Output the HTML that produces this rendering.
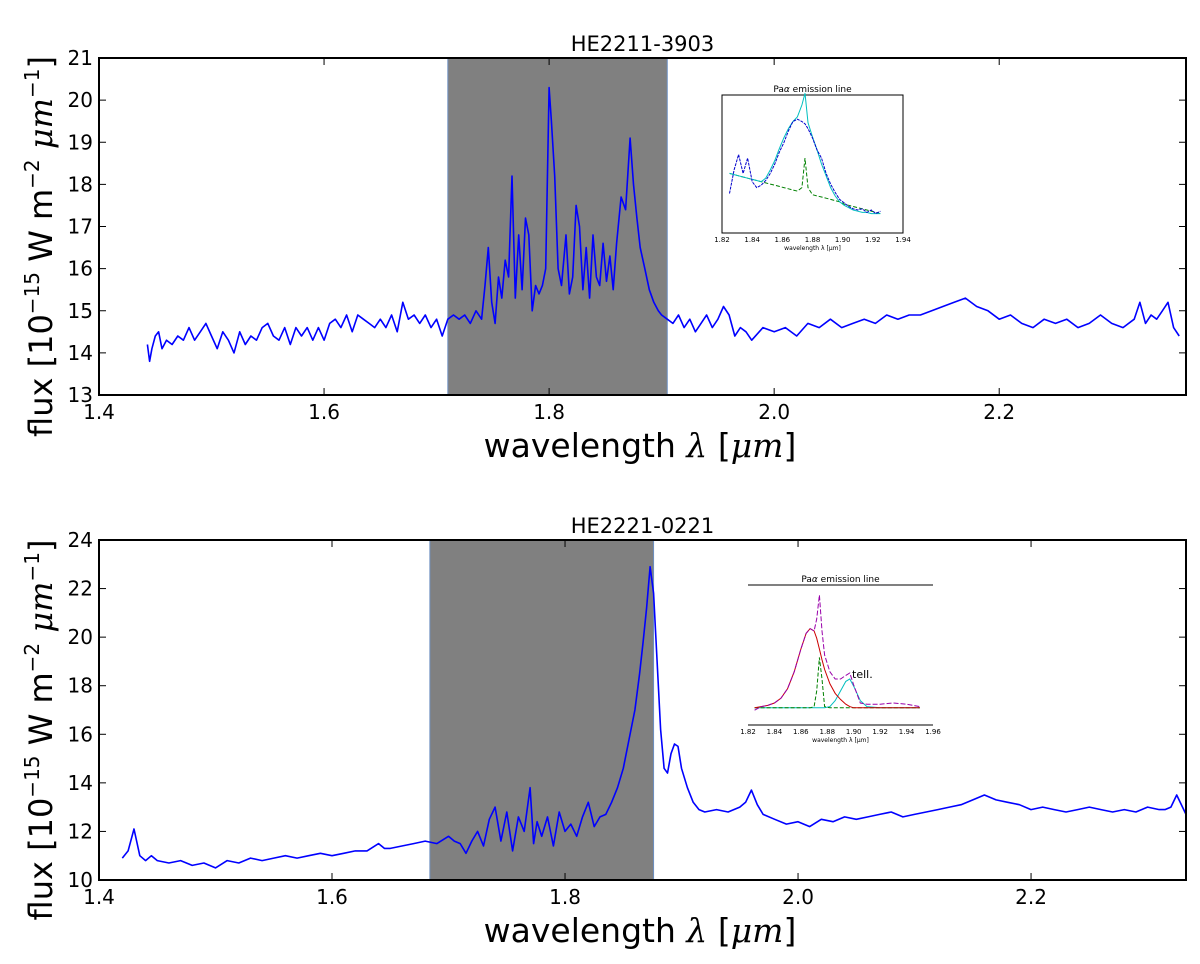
<!DOCTYPE html>
<html><head><meta charset="utf-8"><style>
body{margin:0;background:#fff}
svg{display:block;font-family:"DejaVu Sans","Liberation Sans",sans-serif}
</style></head><body>
<svg id="c" width="1200" height="964"></svg>
<script>
// ---- top panel data (HE2211-3903)
const topWl=[1.443,1.445,1.447,1.45,1.453,1.456,1.46,1.465,1.47,1.475,1.48,1.485,1.49,1.495,1.5,1.505,1.51,1.515,1.52,1.525,1.53,1.535,1.54,1.545,1.55,1.555,1.56,1.565,1.57,1.575,1.58,1.585,1.59,1.595,1.6,1.605,1.61,1.615,1.62,1.625,1.63,1.635,1.64,1.645,1.65,1.655,1.66,1.665,1.67,1.675,1.68,1.685,1.69,1.695,1.7,1.705,1.71,1.715,1.72,1.725,1.73,1.735,1.74,1.743,1.746,1.749,1.752,1.755,1.758,1.761,1.764,1.767,1.77,1.773,1.776,1.779,1.782,1.785,1.788,1.791,1.794,1.797,1.8,1.802,1.805,1.808,1.811,1.815,1.818,1.821,1.824,1.827,1.83,1.833,1.836,1.839,1.842,1.845,1.848,1.851,1.854,1.857,1.86,1.864,1.868,1.872,1.875,1.878,1.881,1.885,1.889,1.893,1.897,1.9,1.905,1.91,1.915,1.92,1.925,1.93,1.935,1.94,1.945,1.95,1.955,1.96,1.965,1.97,1.975,1.98,1.99,2.0,2.01,2.02,2.03,2.04,2.05,2.06,2.07,2.08,2.09,2.1,2.11,2.12,2.13,2.14,2.15,2.16,2.17,2.18,2.19,2.2,2.21,2.22,2.23,2.24,2.25,2.26,2.27,2.28,2.29,2.3,2.31,2.32,2.325,2.33,2.335,2.34,2.345,2.35,2.355,2.36,2.366];
const topFlux=[14.2,13.8,14.1,14.4,14.5,14.1,14.3,14.2,14.4,14.3,14.6,14.3,14.5,14.7,14.4,14.1,14.5,14.3,14.0,14.5,14.2,14.4,14.3,14.6,14.7,14.4,14.3,14.6,14.2,14.6,14.4,14.6,14.3,14.6,14.3,14.7,14.8,14.6,14.9,14.5,14.9,14.8,14.7,14.6,14.8,14.6,14.9,14.5,15.2,14.8,14.9,14.7,14.9,14.6,14.8,14.4,14.8,14.9,14.8,14.9,14.7,15.0,14.8,15.6,16.5,15.2,14.7,15.8,15.3,16.2,15.8,18.2,15.3,16.8,15.5,17.2,16.8,15.0,15.6,15.4,15.6,16.0,20.3,19.5,18.2,16.0,15.6,16.8,15.4,15.8,17.5,17.0,15.5,16.5,15.3,16.8,15.8,15.6,16.6,15.7,16.3,15.5,16.6,17.7,17.4,19.1,18.0,17.2,16.5,16.0,15.5,15.2,15.0,14.9,14.8,14.7,14.9,14.6,14.8,14.5,14.7,14.9,14.6,14.8,15.1,14.9,14.4,14.6,14.5,14.3,14.6,14.5,14.6,14.4,14.7,14.6,14.8,14.6,14.7,14.8,14.7,14.9,14.8,14.9,14.9,15.0,15.1,15.2,15.3,15.1,15.0,14.8,14.9,14.7,14.6,14.8,14.7,14.8,14.6,14.7,14.9,14.7,14.6,14.8,15.2,14.7,14.9,14.8,15.0,15.2,14.6,14.4];
const topBand=[1.71,1.905];
const topXTicks=[1.4,1.6,1.8,2.0,2.2];
const topYTicks=[13,14,15,16,17,18,19,20,21];
// ---- bottom panel data (HE2221-0221)
const botWl=[1.42,1.425,1.43,1.435,1.44,1.445,1.45,1.46,1.47,1.48,1.49,1.5,1.51,1.52,1.53,1.54,1.55,1.56,1.57,1.58,1.59,1.6,1.61,1.62,1.63,1.64,1.645,1.65,1.66,1.67,1.68,1.69,1.7,1.705,1.71,1.715,1.72,1.725,1.73,1.735,1.74,1.745,1.75,1.755,1.76,1.765,1.77,1.773,1.776,1.78,1.785,1.79,1.795,1.8,1.805,1.81,1.815,1.82,1.825,1.83,1.835,1.84,1.845,1.85,1.855,1.86,1.864,1.867,1.87,1.873,1.876,1.879,1.882,1.885,1.888,1.891,1.894,1.897,1.9,1.905,1.91,1.915,1.92,1.93,1.94,1.95,1.955,1.96,1.965,1.97,1.98,1.99,2.0,2.01,2.02,2.03,2.04,2.05,2.06,2.07,2.08,2.09,2.1,2.11,2.12,2.13,2.14,2.15,2.16,2.17,2.18,2.19,2.2,2.21,2.22,2.23,2.24,2.25,2.26,2.27,2.28,2.29,2.3,2.31,2.315,2.32,2.325,2.333];
const botFlux=[10.9,11.2,12.1,11.0,10.8,11.0,10.8,10.7,10.8,10.6,10.7,10.5,10.8,10.7,10.9,10.8,10.9,11.0,10.9,11.0,11.1,11.0,11.1,11.2,11.2,11.5,11.3,11.3,11.4,11.5,11.6,11.5,11.8,11.6,11.5,11.1,11.6,12.0,11.4,12.5,13.0,11.6,12.8,11.2,12.6,12.0,13.8,11.5,12.4,11.8,12.6,11.4,12.8,12.0,12.3,11.8,12.6,13.2,12.2,12.6,12.7,13.2,13.8,14.6,15.8,17.0,18.5,19.8,21.2,22.9,21.8,19.0,16.2,14.6,14.4,15.2,15.6,15.5,14.6,13.8,13.2,12.9,12.8,12.9,12.8,13.0,13.2,13.7,13.1,12.7,12.5,12.3,12.4,12.2,12.5,12.4,12.6,12.5,12.6,12.7,12.8,12.6,12.7,12.8,12.9,13.0,13.1,13.3,13.5,13.3,13.2,13.1,12.9,13.0,12.9,12.8,12.9,13.0,12.9,12.8,12.9,12.8,13.0,12.9,12.9,13.0,13.5,12.7,13.2];
const botBand=[1.684,1.876];
const botXTicks=[1.4,1.6,1.8,2.0,2.2];
const botYTicks=[10,12,14,16,18,20,22,24];
// ---- inset data (relative units 0..1)
const in1Wl=[1.825,1.828,1.831,1.834,1.837,1.84,1.843,1.846,1.849,1.852,1.855,1.858,1.861,1.864,1.867,1.87,1.873,1.875,1.877,1.88,1.883,1.886,1.889,1.892,1.895,1.898,1.901,1.904,1.907,1.91,1.913,1.916,1.919,1.922,1.925];
const in1Flux=[0.25,0.45,0.58,0.42,0.55,0.35,0.3,0.32,0.36,0.42,0.5,0.6,0.68,0.78,0.86,0.88,0.86,0.84,0.8,0.72,0.62,0.55,0.42,0.33,0.26,0.2,0.17,0.14,0.12,0.11,0.12,0.09,0.11,0.08,0.1];
const in1Fit=[0.42,0.41,0.4,0.39,0.38,0.37,0.36,0.35,0.38,0.45,0.53,0.63,0.72,0.8,0.86,0.9,1.0,1.1,0.85,0.73,0.62,0.5,0.4,0.3,0.23,0.18,0.15,0.13,0.11,0.1,0.09,0.09,0.08,0.08,0.08];
const in1Cont=[0.42,0.41,0.4,0.39,0.38,0.37,0.36,0.35,0.34,0.33,0.32,0.31,0.3,0.29,0.28,0.27,0.3,0.55,0.3,0.24,0.23,0.22,0.21,0.2,0.19,0.18,0.16,0.15,0.14,0.13,0.12,0.11,0.1,0.09,0.08];
const in2Wl=[1.825,1.83,1.835,1.84,1.845,1.85,1.855,1.86,1.864,1.867,1.87,1.872,1.874,1.876,1.878,1.882,1.886,1.89,1.894,1.897,1.9,1.905,1.91,1.92,1.93,1.94,1.945,1.95];
const in2Flux=[0.04,0.07,0.08,0.1,0.14,0.22,0.36,0.55,0.68,0.72,0.7,0.8,1.0,0.7,0.5,0.36,0.3,0.3,0.33,0.35,0.25,0.1,0.09,0.09,0.1,0.09,0.08,0.07];
const in2Broad=[0.06,0.07,0.08,0.1,0.14,0.22,0.36,0.55,0.68,0.72,0.7,0.64,0.55,0.46,0.38,0.26,0.18,0.13,0.09,0.07,0.06,0.06,0.06,0.06,0.06,0.06,0.06,0.06];
const in2Narrow=[0.06,0.06,0.06,0.06,0.06,0.06,0.06,0.06,0.06,0.06,0.07,0.2,0.48,0.3,0.07,0.06,0.06,0.06,0.06,0.06,0.06,0.06,0.06,0.06,0.06,0.06,0.06,0.06];
const in2Tell=[0.06,0.06,0.06,0.06,0.06,0.06,0.06,0.06,0.06,0.06,0.06,0.06,0.06,0.06,0.06,0.07,0.12,0.2,0.28,0.3,0.24,0.12,0.07,0.06,0.06,0.06,0.06,0.06];

const svg=document.getElementById('c');
const NS='http://www.w3.org/2000/svg';
function mk(tag,attrs,parent,name){const e=document.createElementNS(NS,tag);for(const k in attrs)e.setAttribute(k,attrs[k]);(parent||svg).appendChild(e);


return e;}
function poly(wl,fl,sx,sy,attrs,parent,name){let d='';for(let i=0;i<wl.length;i++)d+=(i?'L':'M')+sx(wl[i]).toFixed(1)+','+sy(fl[i]).toFixed(1);return mk('path',Object.assign({d:d,fill:'none'},attrs),parent,name);}

function panel(o){
  const g=mk('g',{},svg,o.name);
  const L=99,R=1186,T=o.top,B=o.bot;
  const sx=v=>L+(v-o.x0)/(o.x1-o.x0)*(R-L);
  const sy=v=>B-(v-o.y0)/(o.y1-o.y0)*(B-T);
  mk('rect',{x:sx(o.band[0]),y:T,width:sx(o.band[1])-sx(o.band[0]),height:B-T,fill:'#808080',stroke:'#6d8fc0','stroke-width':1},g,'shaded-region');
  poly(o.wl,o.fl,sx,sy,{stroke:'#0000ff','stroke-width':1.6,'stroke-linejoin':'round'},g,'spectrum-line');
  mk('rect',{x:L,y:T,width:R-L,height:B-T,fill:'none',stroke:'#000','stroke-width':2},g,'axes-frame');
  o.xt.forEach(v=>{const x=sx(v);
    mk('line',{x1:x,y1:B,x2:x,y2:B-7,stroke:'#000'},g,'x-tick');
    mk('line',{x1:x,y1:T,x2:x,y2:T+7,stroke:'#000'},g,'x-tick');
    const t=mk('text',{x:x,y:B+24,'text-anchor':'middle','font-size':20},g,'x-tick-label');t.textContent=v.toFixed(1);});
  o.yt.forEach(v=>{const y=sy(v);
    mk('line',{x1:L,y1:y,x2:L+7,y2:y,stroke:'#000'},g,'y-tick');
    mk('line',{x1:R,y1:y,x2:R-7,y2:y,stroke:'#000'},g,'y-tick');
    const t=mk('text',{x:L-6,y:y+7,'text-anchor':'end','font-size':20},g,'y-tick-label');t.textContent=v;});
  const tt=mk('text',{x:(L+R)/2,y:T-7,'text-anchor':'middle','font-size':21},g,'panel-title');tt.textContent=o.title;
  const xl=mk('text',{x:640,y:B+62,'text-anchor':'middle','font-size':33},g,'x-axis-title');
  xl.innerHTML='wavelength <tspan font-style="italic" font-family="DejaVu Serif,serif">λ</tspan> [<tspan font-style="italic" font-family="DejaVu Serif,serif">μm</tspan>]';
  const yl=mk('text',{x:0,y:0,'text-anchor':'middle','font-size':32,transform:`translate(52,${(T+B)/2+20}) rotate(-90)`},g,'y-axis-title');
  yl.innerHTML='flux [10<tspan dy="-13" font-size="20">−15</tspan><tspan dy="13"> W m</tspan><tspan dy="-13" font-size="20">−2</tspan><tspan dy="13" font-style="italic" font-family="DejaVu Serif,serif"> μm</tspan><tspan dy="-13" font-size="20">−1</tspan><tspan dy="13">]</tspan>';
  return g;
}
panel({name:'top-panel',top:58,bot:395,x0:1.4,x1:2.366,y0:13,y1:21,band:topBand,wl:topWl,fl:topFlux,xt:topXTicks,yt:topYTicks,title:'HE2211-3903'});
panel({name:'bottom-panel',top:540,bot:880,x0:1.4,x1:2.333,y0:10,y1:24,band:botBand,wl:botWl,fl:botFlux,xt:botXTicks,yt:botYTicks,title:'HE2221-0221'});

function inset(o){
  const g=mk('g',{},svg,o.name);
  const sx=v=>o.L+(v-1.82)/(o.xmax-1.82)*(o.R-o.L);
  const sy=v=>o.B-10-v*(o.B-o.T-20);
  if(o.box)mk('rect',{x:o.L,y:o.T,width:o.R-o.L,height:o.B-o.T,fill:'none',stroke:'#000','stroke-width':1},g,'inset-frame');
  else{mk('line',{x1:o.L,y1:o.T,x2:o.R,y2:o.T,stroke:'#000'},g,'inset-top-line');mk('line',{x1:o.L,y1:o.B,x2:o.R,y2:o.B,stroke:'#000'},g,'inset-x-axis');}
  o.curves.forEach(c=>poly(o.wl,c.v,sx,sy,{stroke:c.col,'stroke-width':1,'stroke-dasharray':c.dash||'none'},g,c.name));
  o.ticks.forEach(v=>{const t=mk('text',{x:sx(v),y:o.B+9,'text-anchor':'middle','font-size':7},g,'inset-tick-label');t.textContent=v.toFixed(2);});
  const t=mk('text',{x:(o.L+o.R)/2,y:o.T-3,'text-anchor':'middle','font-size':9},g,'inset-title');t.innerHTML='Pa<tspan font-style="italic">α</tspan> emission line';
  const x=mk('text',{x:(o.L+o.R)/2,y:o.B+17,'text-anchor':'middle','font-size':6},g,'inset-x-title');x.textContent='wavelength λ [μm]';
  return {g,sx,sy};
}
inset({name:'inset-top',L:722,R:903,T:95,B:233,xmax:1.94,box:true,wl:in1Wl,ticks:[1.82,1.84,1.86,1.88,1.90,1.92,1.94],
  curves:[{v:in1Cont,col:'#008000',dash:'4,2',name:'continuum-fit'},{v:in1Fit,col:'#00bfbf',name:'total-fit'},{v:in1Flux,col:'#0000cc',dash:'3,1',name:'inset-spectrum'}]});
const i2=inset({name:'inset-bottom',L:748,R:933,T:585,B:725,xmax:1.96,box:false,wl:in2Wl,ticks:[1.82,1.84,1.86,1.88,1.90,1.92,1.94,1.96],
  curves:[{v:in2Tell,col:'#00bfbf',name:'telluric-fit'},{v:in2Narrow,col:'#008000',dash:'4,2',name:'narrow-fit'},{v:in2Broad,col:'#cc0000',name:'broad-fit'},{v:in2Flux,col:'#9900aa',dash:'5,2',name:'inset-spectrum'}]});
const tl=mk('text',{x:852,y:678,'font-size':11},i2.g,'telluric-label');tl.textContent='tell.';
</script>
</body></html>
